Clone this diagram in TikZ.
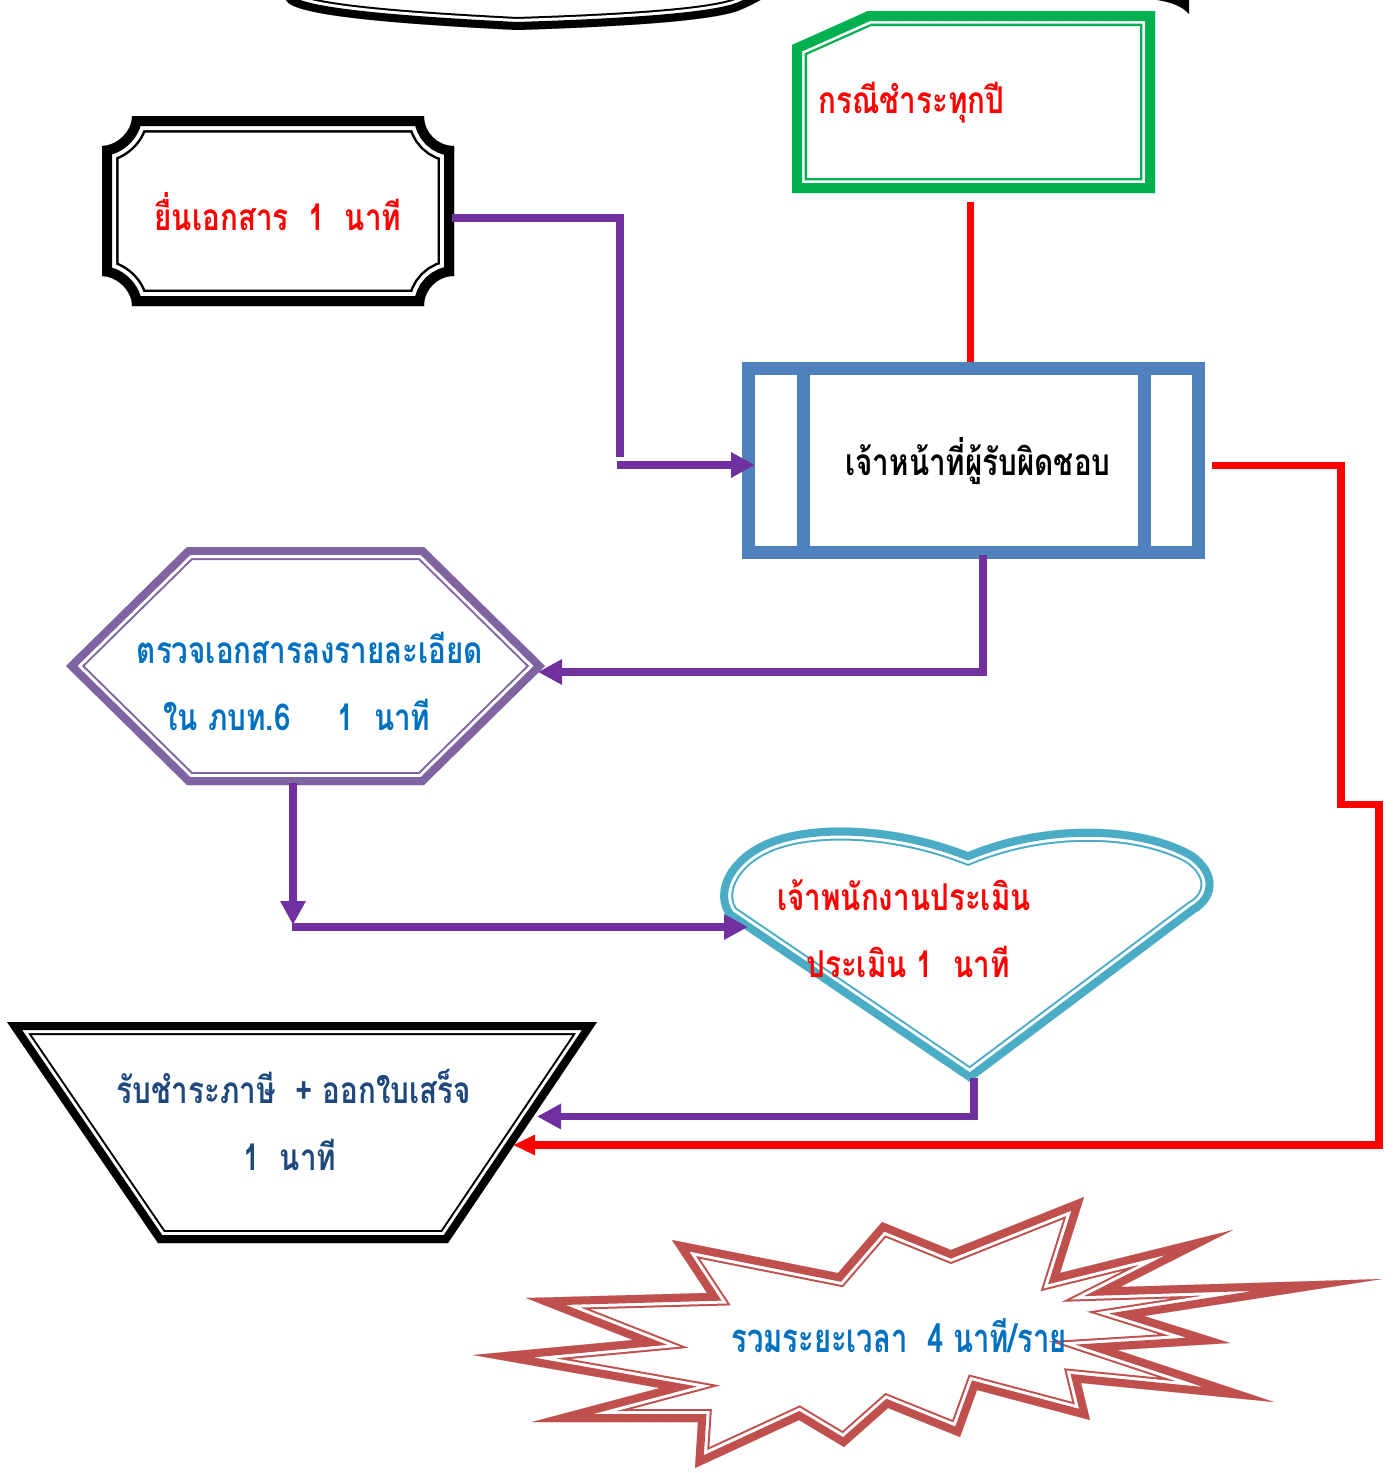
\documentclass[tikz,border=0pt]{standalone}
\usepackage{fontspec}
\usetikzlibrary{arrows.meta,calc}
\newfontfamily\thai[Script=Thai,FakeStretch=0.8]{Loma}
\newfontfamily\thaicond[Script=Thai,FakeStretch=0.73]{Loma}
\definecolor{lpurple}{HTML}{7030A0}
\definecolor{bbox}{HTML}{4F81BD}
\definecolor{gbox}{HTML}{00B050}
\definecolor{hexc}{HTML}{8064A2}
\definecolor{heartc}{HTML}{4BACC6}
\definecolor{starc}{HTML}{C0504D}
\definecolor{tblue}{HTML}{0070C0}
\definecolor{dblue}{HTML}{1F497D}
\definecolor{lred}{HTML}{FF0000}
% #1 colour, #2 2*(thick+gap+thin), #3 2*(thick+gap), #4 2*thick, #5 path (outer edge)
\newcommand\bandshape[5]{%
  \begin{scope}
    \clip #5;
    \fill[white] #5;
    \draw[#1,line width=#2] #5;
    \draw[white,line width=#3] #5;
    \draw[#1,line width=#4] #5;
  \end{scope}}
\begin{document}
\begin{tikzpicture}[x=0.5pt,y=-0.5pt,
  holder/.style={draw=none,inner sep=0pt,outer sep=0pt,rectangle},
  txt/.style={inner sep=0pt,anchor=base,font=\thai\bfseries\fontsize{18.5pt}{22pt}\selectfont},
  txtc/.style={inner sep=0pt,anchor=base,font=\thaicond\bfseries\fontsize{20pt}{24pt}\selectfont},
  pline/.style={draw=lpurple,line width=3.8pt},
  rline/.style={draw=lred,line width=3.8pt},
  parrow/.style={-{Triangle[length=12pt,width=12pt]}},
  rarrow/.style={-{Triangle[length=11pt,width=9.5pt]}}]
\clip (0,0) rectangle (1393,1473);
\fill[white] (0,0) rectangle (1393,1473);

% top scroll (cut off)
\bandshape{black}{13pt}{11pt}{8pt}{(286,-30) -- (286,0) .. controls (292,16) and (400,24) .. (517,30) .. controls (640,26) and (715,20) .. (740,10) .. controls (752,5) and (760,0) .. (772,-6) -- (772,-30) -- cycle}
\fill[black] (1157,0) .. controls (1170,2) and (1182,6) .. (1189,14) -- (1189,0) -- cycle;

% plaque
\bandshape{black}{16.5pt}{14pt}{10pt}{(132,116) -- (424,116) .. controls (424,132.6) and (437.4,146) .. (454,146) -- (454,276) .. controls (437.4,276) and (424,289.4) .. (424,306) -- (132,306) .. controls (132,289.4) and (115.6,276) .. (102,276) -- (102,146) .. controls (115.6,146) and (132,132.6) .. (132,116) -- cycle}
\node[holder,minimum width=176pt,minimum height=95pt] (doc) at (278,211) {};

% green snipped box
\bandshape{gbox}{15pt}{12.7pt}{10pt}{(792,45) -- (868,11) -- (1155,11) -- (1155,193) -- (792,193) -- cycle}
\node[holder,minimum width=181.5pt,minimum height=91pt] (case) at (973.5,102) {};

% blue predefined process
\draw[bbox,line width=6.5pt,fill=white] (748.5,368.5) rectangle (1198.5,552.5);
\draw[bbox,line width=6.5pt] (803,368.5) -- (803,552.5) (1144.5,368.5) -- (1144.5,552.5);
\node[holder,minimum width=231.5pt,minimum height=98.5pt] (officer) at (973.5,460.5) {};

% hexagon
\bandshape{hexc}{13pt}{11pt}{8pt}{(66,666) -- (187,547) -- (424,547) -- (545,666) -- (424,785) -- (187,785) -- cycle}
\node[holder,minimum width=239.5pt,minimum height=119pt] (check) at (305.5,666) {};

% heart
\bandshape{heartc}{13pt}{11pt}{8pt}{(970,1082) -- (727,917) .. controls (710,893) and (726,860) .. (760,843) .. controls (800,822) and (885,820) .. (968,852) .. controls (1045,820) and (1140,822) .. (1193,852) .. controls (1222,872) and (1218,900) .. (1195,913) -- cycle}
\node[holder,minimum width=245.5pt,minimum height=127pt] (assess) at (967.5,955) {};

% trapezoid
\bandshape{black}{13pt}{11pt}{8pt}{(7,1022) -- (597,1022) -- (448,1243) -- (158,1243) -- cycle}
\node[holder,minimum width=295pt,minimum height=110.5pt] (pay) at (302,1132.5) {};

% starburst
\bandshape{starc}{13pt}{11pt}{8pt}{(473,1355) -- (633,1340) -- (526,1298) -- (707,1293) -- (672,1240) -- (838,1273) -- (882,1222) -- (951,1250) -- (1084,1197) -- (1060,1273) -- (1233,1230) -- (1120,1287) -- (1382,1279) -- (1144,1316) -- (1230,1343) -- (1117,1350) -- (1274,1402) -- (1081,1383) -- (1090,1420) -- (977,1390) -- (960,1437) -- (888,1408) -- (844,1447) -- (799,1420) -- (695,1468) -- (698,1422) -- (532,1422) -- (660,1388) -- cycle}
\node[holder,minimum width=458.5pt,minimum height=135.5pt] (total) at (931.5,1332.5) {};

% bend coordinates
\coordinate (bend1) at (620,457);
\coordinate (bend2) at (617,465);
\coordinate (bend3) at (293,925);
\coordinate (bend4) at (292,927);
\coordinate (bend5) at (1341,804.5);
\coordinate (bend6) at (1379,1145);

% connectors
\draw[pline] ($(doc.east)+(-2,7)$) -| (bend1);
\draw[pline,parrow] (bend2) -- ($(officer.west)+(13,4.5)$);
\draw[rline] ($(case.south)+(-3,9)$) -- ($(officer.north)+(-3,0)$);
\draw[pline,parrow] ($(officer.south)+(9.5,-4)$) |- ($(check.east)+(-7,6)$);
\draw[pline,parrow] ($(check.south)+(-12.5,-2)$) -- (bend3);
\draw[pline,parrow] (bend4) -- ($(assess.west)+(26,-28)$);
\draw[pline,parrow] ($(assess.south)+(6.5,-4)$) |- ($(pay.east)+(-60,-16)$);
\draw[rline,rarrow] ($(officer.east)+(7,5)$) -| (bend5) -| (bend6) -- ($(pay.east)+(-84,12.5)$);

% texts
\node[txt,text=lred] (t1) at (278,230) {ยื่นเอกสาร\ \ 1\ \ นาที};
\node[txt,text=lred,anchor=base west] (t2) at (818,113) {กรณีชำระทุกปี};
\node[txt,text=black] (t3) at (978,475) {เจ้าหน้าที่ผู้รับผิดชอบ};
\node[txt,text=tblue] (t4a) at (310,663) {ตรวจเอกสารลงรายละเอียด};
\node[txt,text=tblue] (t4b) at (297,730) {ใน ภบท.6\quad\ 1\ \ นาที};
\node[txt,text=lred] (t5a) at (904,910) {เจ้าพนักงานประเมิน};
\node[txt,text=lred] (t5b) at (908,977) {ประเมิน 1\ \ นาที};
\node[txt,text=dblue] (t6a) at (294,1103) {รับชำระภาษี\ \ + ออกใบเสร็จ};
\node[txt,text=dblue] (t6b) at (290,1170) {1\ \ นาที};
\node[txtc,text=tblue] (t7) at (899,1352) {รวมระยะเวลา\ \ 4 นาที/ราย};
\end{tikzpicture}
\end{document}
